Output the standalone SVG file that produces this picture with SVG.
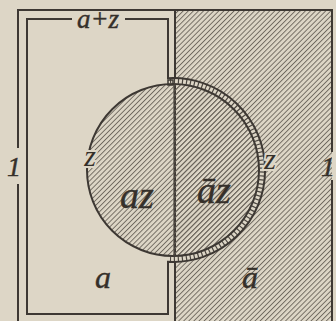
<svg xmlns="http://www.w3.org/2000/svg" width="336" height="321" viewBox="0 0 336 321">
<defs>
<pattern id="hatch" patternUnits="userSpaceOnUse" width="3.6" height="3.6" patternTransform="rotate(45)">
<line x1="0.5" y1="0" x2="0.5" y2="3.6" stroke="#6a645a" stroke-width="0.9"/>
</pattern>
<style>
.ln{fill:none;stroke:#3d3833;stroke-width:2}
.thin{fill:none;stroke:#4a453f;stroke-width:1.2}
.t{font-family:"Liberation Serif",serif;font-style:italic;fill:#35302a;stroke:#35302a;stroke-width:0.4;text-anchor:middle}
.halo{paint-order:stroke;stroke:#ddd6c6;stroke-width:4}
</style>
</defs>
<rect width="336" height="321" fill="#ddd6c6"/>
<g id="region-not-a">
<rect x="175" y="10" width="157" height="311" fill="url(#hatch)"/>
<path class="ln" d="M175,321 V10 H332 V152 M332,180 V321"/>
</g>
<g id="circle-z">
<circle cx="173" cy="170" r="86" fill="url(#hatch)"/>
<path d="M170,81.05 A89,89 0 1 1 170,258.95" fill="none" stroke="#ddd6c6" stroke-width="5.5"/>
<path d="M170,81.05 A89,89 0 1 1 170,258.95" fill="none" stroke="#4a453f" stroke-width="5" stroke-dasharray="1.2 2.8"/>
<path class="ln" d="M173,84 A86,86 0 0 1 173,256 A86,86 0 0 1 87,170 A86,86 0 0 1 173,84" stroke-width="2.4"/>
<line class="thin" x1="174" y1="84" x2="174" y2="256"/>
<rect x="168" y="80" width="5" height="5" fill="none" stroke="#3d3833" stroke-width="1.5"/>
</g>
<g id="region-a-plus-z">
<path class="ln" d="M72,19 H27 V314 H168 V261.86 A92,92 0 1 0 168,78.14 V19 H125"/>
</g>
<g id="universe">
<path class="ln" d="M18,148 V10 H175 M18,184 V321"/>
</g>
<g id="labels">
<text class="t" x="98" y="28" font-size="27">a+z</text>
<text class="t" x="14" y="176" font-size="28">1</text>
<text class="t" x="328" y="176" font-size="28">1</text>
<text class="t halo" x="90" y="166" font-size="30">z</text>
<text class="t halo" x="270" y="169" font-size="30">z</text>
<text class="t" x="137" y="208" font-size="38">az</text>
<text class="t" x="214" y="203" font-size="38">āz</text>
<text class="t" x="103" y="288" font-size="32">a</text>
<text class="t" x="250" y="288" font-size="32">ā</text>
</g>
</svg>
